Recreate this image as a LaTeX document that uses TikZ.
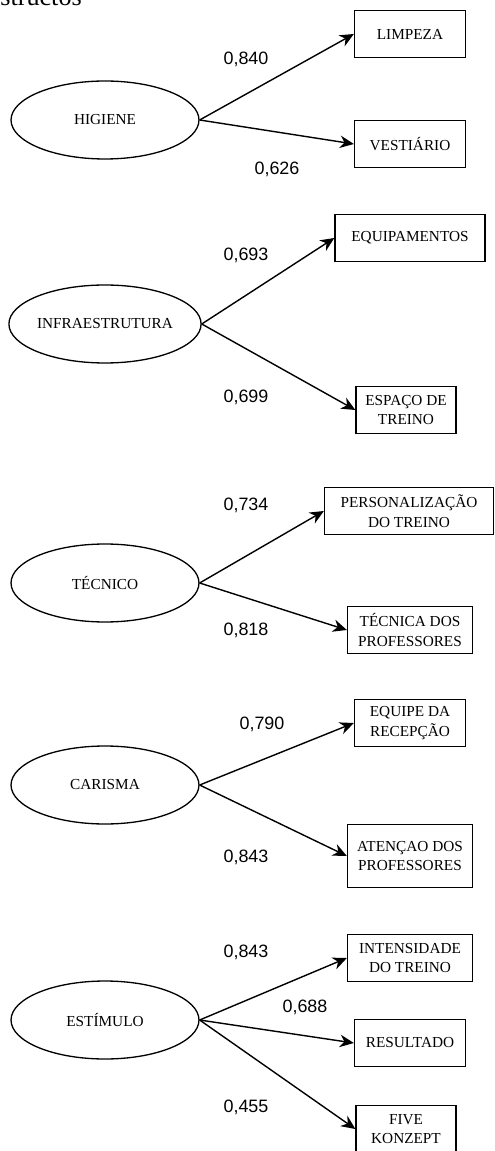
\documentclass[tikz,border=0pt]{standalone}
\usepackage{fontspec}
\setmainfont{Liberation Serif}
\newfontfamily\numfont{Liberation Sans}
\usetikzlibrary{shapes.geometric,arrows.meta}

\tikzset{
	latent/.style={draw, ellipse, line width=0.75pt, minimum width=3.76cm, minimum height=1.56cm, inner sep=0pt, font=\fontsize{8.7}{11.3}\selectfont},
	item/.style={draw, rectangle, line width=0.75pt, minimum height=0.94cm, inner sep=1pt, align=center, font=\fontsize{8.7}{11.3}\selectfont},
	loading/.style={inner sep=0pt, font=\numfont\fontsize{10.2}{12}\selectfont},
	path/.style={line width=0.8pt, -{Stealth[length=2.8mm, width=2.5mm, inset=0.9mm]}}
}

\begin{document}
\begin{tikzpicture}[x=0.02cm, y=-0.02cm]
		\useasboundingbox (0,0) rectangle (494,1151);
		\node[anchor=base west, inner sep=0pt, font=\fontsize{14.9}{16}\selectfont] (title) at (0,6) {structos};

		% HIGIENE
		\node[latent] (hig) at (105,120) {HIGIENE};
		\node[item, minimum width=2.22cm] (limp) at (410,34) {LIMPEZA};
		\node[item, minimum width=2.22cm] (vest) at (410,144) {VESTIÁRIO};
		\draw[path] (hig.east) -- (limp.west);
		\draw[path] (hig.east) -- (vest.west);
		\node[loading] (l1) at (246,59) {0,840};
		\node[loading] (l2) at (277,169) {0,626};

		% INFRAESTRUTURA
		\node[latent] (infra) at (105,324) {INFRAESTRUTURA};
		\node[item, minimum width=3.0cm] (equip) at (410,238) {EQUIPAMENTOS};
		\node[item, minimum width=2.0cm] (espaco) at (406,410) {ESPAÇO DE\\TREINO};
		\draw[path] (infra.east) -- (equip.west);
		\draw[path] (infra.east) -- (espaco.west);
		\node[loading] (l3) at (246,255) {0,693};
		\node[loading] (l4) at (246,397) {0,699};

		% TECNICO
		\node[latent] (tec) at (105,583) {TÉCNICO};
		\node[item, minimum width=3.38cm] (pers) at (409,511) {PERSONALIZAÇÃO\\DO TREINO};
		\node[item, minimum width=2.5cm] (tecp) at (410,630) {TÉCNICA DOS\\PROFESSORES};
		\draw[path] (tec.east) -- (pers.west);
		\draw[path] (tec.east) -- (tecp.west);
		\node[loading] (l5) at (246,505) {0,734};
		\node[loading] (l6) at (246,630) {0,818};

		% CARISMA
		\node[latent] (car) at (105,785) {CARISMA};
		\node[item, minimum width=2.22cm] (recep) at (410,723) {EQUIPE DA\\RECEPÇÃO};
		\node[item, minimum width=2.5cm, minimum height=1.26cm] (aten) at (410,856) {ATENÇAO DOS\\PROFESSORES};
		\draw[path] (car.east) -- (recep.west);
		\draw[path] (car.east) -- (aten.west);
		\node[loading] (l7) at (262,724) {0,790};
		\node[loading] (l8) at (246,857) {0,843};

		% ESTIMULO
		\node[latent] (est) at (105,1020) {ESTÍMULO};
		\node[item, minimum width=2.5cm] (inten) at (410,958) {INTENSIDADE\\DO TREINO};
		\node[item, minimum width=2.22cm] (result) at (410,1043) {RESULTADO};
		\node[item, minimum width=2.0cm] (five) at (406,1129) {FIVE\\KONZEPT};
		\draw[path] (est.east) -- (inten.west);
		\draw[path] (est.east) -- (result.west);
		\draw[path] (est.east) -- (five.west);
		\node[loading] (l9) at (246,952) {0,843};
		\node[loading] (l10) at (305,1007) {0,688};
		\node[loading] (l11) at (246,1107) {0,455};
\end{tikzpicture}
\end{document}
